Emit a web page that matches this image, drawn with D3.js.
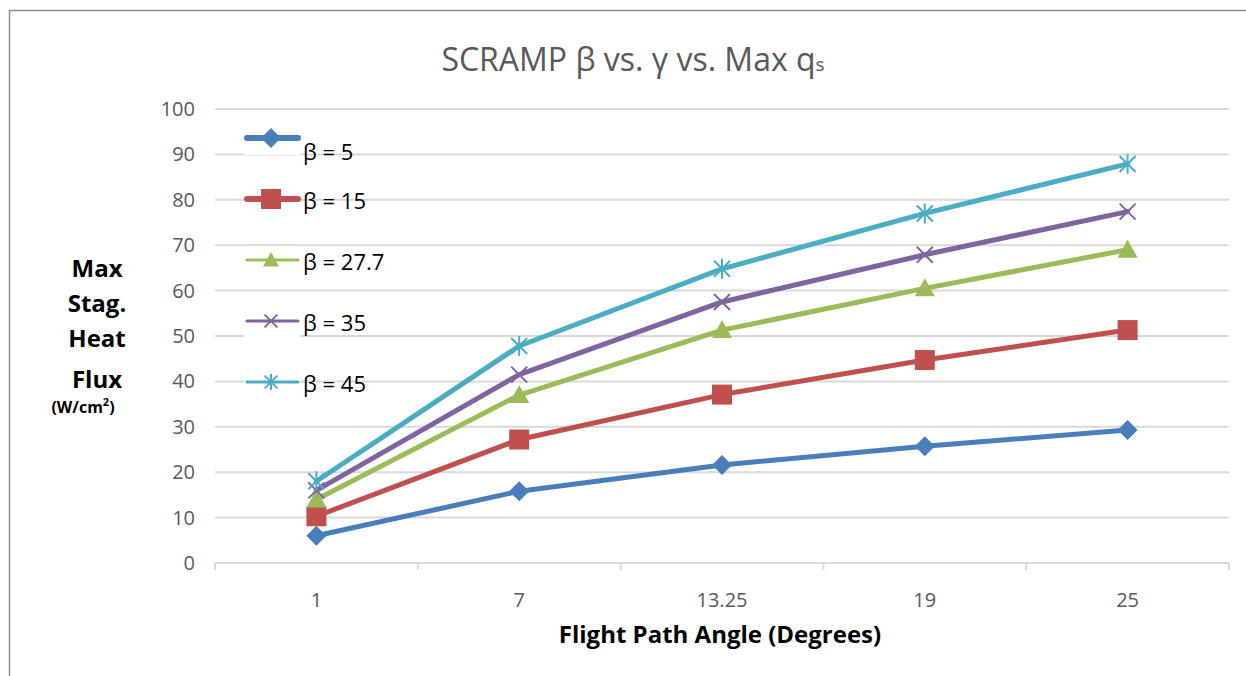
<!DOCTYPE html>
<html>
<head>
<meta charset="utf-8">
<script src="https://cdn.jsdelivr.net/npm/d3@7"></script>
<style>
  body { margin: 0; background: #fff; }
  svg { display: block; font-family: "Open Sans", "Noto Sans", sans-serif; }
</style>
</head>
<body>
<div id="chart"></div>
<script>
// Flight path angle categories and max stagnation heat flux per beta
const angles = ['1', '7', '13.25', '19', '25'];
const betas = ['β = 5', 'β = 15', 'β = 27.7', 'β = 35', 'β = 45'];
const beta5 = [6, 15.8, 21.6, 25.7, 29.3];
const beta15 = [10.3, 27.2, 37.1, 44.7, 51.3];
const beta27 = [14, 37, 51.3, 60.5, 69];
const beta35 = [16, 41.5, 57.5, 67.9, 77.4];
const beta45 = [18, 47.8, 64.8, 77, 87.9];
const yTicks = [0, 10, 20, 30, 40, 50, 60, 70, 80, 90, 100];

const colors = ['#4a7ebb', '#c0504d', '#9bbb59', '#8064a2', '#4bacc6'];
const markers = ['diamond', 'square', 'triangle', 'cross', 'star'];
const seriesValues = [beta5, beta15, beta27, beta35, beta45];

const width = 1246, height = 676;
const plotLeft = 215, plotRight = 1229, plotTop = 109, plotBottom = 563;

const svg = d3.select('#chart').append('svg')
  .attr('width', width)
  .attr('height', height);

svg.append('rect').attr('width', width).attr('height', height).attr('fill', '#fff');

// outer chart frame
svg.append('rect')
  .attr('x', 9.5).attr('y', 10.5)
  .attr('width', 1300).attr('height', 700)
  .attr('fill', 'none')
  .attr('stroke', '#8c8c8c')
  .attr('stroke-width', 1.5);

const x = d3.scaleBand().domain(angles).range([plotLeft, plotRight]);
const y = d3.scaleLinear().domain([0, 100]).range([plotBottom, plotTop]);

// gridlines
svg.selectAll('.grid')
  .data(yTicks.filter(d => d > 0))
  .join('line')
  .attr('x1', plotLeft).attr('x2', plotRight)
  .attr('y1', d => y(d)).attr('y2', d => y(d))
  .attr('stroke', '#d9d9d9')
  .attr('stroke-width', 2);

// x axis
const xAxis = svg.append('g').attr('transform', `translate(0,${plotBottom})`);
xAxis.append('line')
  .attr('x1', plotLeft).attr('x2', plotRight)
  .attr('stroke', '#d9d9d9').attr('stroke-width', 2);
const boundaries = angles.map(a => x(a)).concat([x(angles[angles.length - 1]) + x.bandwidth()]);
xAxis.selectAll('.tick')
  .data(boundaries)
  .join('line')
  .attr('x1', d => d).attr('x2', d => d)
  .attr('y1', 0).attr('y2', 7)
  .attr('stroke', '#d9d9d9').attr('stroke-width', 2);
xAxis.selectAll('.xlabel')
  .data(angles)
  .join('text')
  .attr('x', d => x(d) + x.bandwidth() / 2)
  .attr('y', 44)
  .attr('text-anchor', 'middle')
  .attr('font-size', 20)
  .attr('fill', '#595959')
  .text(d => d);

// y tick labels
svg.selectAll('.ylabel')
  .data(yTicks)
  .join('text')
  .attr('x', 195)
  .attr('y', d => y(d) + 7)
  .attr('text-anchor', 'end')
  .attr('font-size', 20)
  .attr('fill', '#595959')
  .text(d => d);

// title
const title = svg.append('text')
  .attr('x', 633).attr('y', 71)
  .attr('text-anchor', 'middle')
  .attr('font-size', 32)
  .attr('fill', '#595959');
title.append('tspan').text('SCRAMP β vs. γ vs. Max q');
title.append('tspan').attr('font-size', 19).text('s');

// axis titles
svg.append('text')
  .attr('x', 720).attr('y', 643)
  .attr('text-anchor', 'middle')
  .attr('font-size', 24)
  .attr('font-weight', 'bold')
  .attr('fill', '#000')
  .text('Flight Path Angle (Degrees)');

const yTitle = ['Max', 'Stag.', 'Heat', 'Flux'];
svg.selectAll('.ytitle')
  .data(yTitle)
  .join('text')
  .attr('x', 97)
  .attr('y', (d, i) => 277 + i * 35 + (i === 3 ? 6 : 0))
  .attr('text-anchor', 'middle')
  .attr('font-size', 24)
  .attr('font-weight', 'bold')
  .attr('fill', '#000')
  .text(d => d);
const unit = svg.append('text')
  .attr('x', 83).attr('y', 413)
  .attr('text-anchor', 'middle')
  .attr('font-size', 16)
  .attr('font-weight', 'bold')
  .attr('fill', '#000');
unit.append('tspan').text('(W/cm');
unit.append('tspan').attr('font-size', 11).attr('dy', -7).text('2');
unit.append('tspan').attr('dy', 7).text(')');

// marker drawing
function drawMarker(g, type, color, s) {
  if (type === 'diamond') {
    g.append('path').attr('d', `M0,${-s}L${s},0L0,${s}L${-s},0Z`).attr('fill', color);
  } else if (type === 'square') {
    g.append('rect').attr('x', -s).attr('y', -s).attr('width', 2 * s).attr('height', 2 * s).attr('fill', color);
  } else if (type === 'triangle') {
    g.append('path').attr('d', `M0,${-s}L${s},${s * 0.8}L${-s},${s * 0.8}Z`).attr('fill', color);
  } else {
    const k = s * 0.8;
    let d = `M${-k},${-k}L${k},${k}M${-k},${k}L${k},${-k}`;
    if (type === 'star') d += `M0,${-s}L0,${s}`;
    g.append('path').attr('d', d).attr('stroke', color).attr('stroke-width', 2).attr('fill', 'none');
  }
}

const line = d3.line()
  .x((d, i) => x(angles[i]) + x.bandwidth() / 2)
  .y(d => y(d));

seriesValues.forEach((vals, si) => {
  svg.append('path')
    .datum(vals)
    .attr('d', line)
    .attr('fill', 'none')
    .attr('stroke', colors[si])
    .attr('stroke-width', 5)
    .attr('stroke-linejoin', 'round')
    .attr('stroke-linecap', 'round');
  vals.forEach((v, i) => {
    const g = svg.append('g')
      .attr('transform', `translate(${x(angles[i]) + x.bandwidth() / 2},${y(v)})`);
    drawMarker(g, markers[si], colors[si], 10);
  });
});

// legend
const legend = svg.append('g');
betas.forEach((name, i) => {
  const ly = 138 + i * 61;
  const g = legend.append('g').attr('transform', `translate(0,${ly})`);
  g.append('rect').attr('x', 244).attr('y', -14).attr('width', 56).attr('height', 31).attr('fill', '#fff');
  g.append('line')
    .attr('x1', 247).attr('x2', 298)
    .attr('stroke', colors[i])
    .attr('stroke-width', i < 2 ? 6 : 3)
    .attr('stroke-linecap', 'round');
  const m = g.append('g').attr('transform', 'translate(271,0)');
  drawMarker(m, markers[i], colors[i], i < 2 ? 10 : 8);
  g.append('text')
    .attr('x', 303).attr('y', i === 0 ? 22 : 10)
    .attr('font-size', 22)
    .attr('fill', '#000')
    .text(name);
});
</script>
</body>
</html>
